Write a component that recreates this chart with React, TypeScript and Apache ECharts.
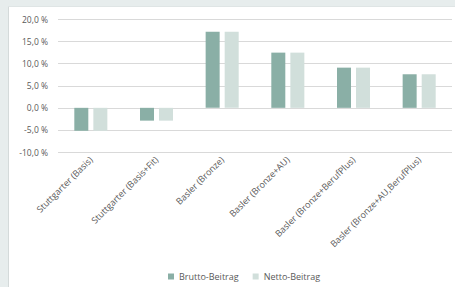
import React, { useEffect, useRef } from "react";
import * as echarts from "echarts";

const categories = [
  "Stuttgarter (Basis)",
  "Stuttgarter (Basis+Fit)",
  "Basler (Bronze)",
  "Basler (Bronze+AU)",
  "Basler (Bronze+BerufPlus)",
  "Basler (Bronze+AU,BerufPlus)",
];
const brutto = [-5.2, -2.9, 17.2, 12.5, 9.1, 7.6];
const netto = [-5.2, -2.9, 17.2, 12.5, 9.1, 7.6];
const seriesNames = ["Brutto-Beitrag", "Netto-Beitrag"];

const FONT = "'Open Sans', 'Noto Sans', sans-serif";

export default function App() {
  const ref = useRef<HTMLDivElement>(null);
  useEffect(() => {
    if (!ref.current) return;
    const chart = echarts.init(ref.current, undefined, { renderer: "svg" });
    chart.setOption({
      animation: false,
      backgroundColor: "#ffffff",
      textStyle: { fontFamily: FONT },
      graphic: [
        { type: "rect", shape: { x: 0, y: 0, width: 455, height: 6 }, style: { fill: "#e7eded" }, z: -10 },
        { type: "rect", shape: { x: 0, y: 0, width: 8, height: 287 }, style: { fill: "#e7eded" }, z: -10 },
        { type: "line", shape: { x1: 8.5, y1: 6, x2: 8.5, y2: 287 }, style: { stroke: "#d4dada", lineWidth: 1 }, z: -9 },
        { type: "line", shape: { x1: 8, y1: 6.5, x2: 455, y2: 6.5 }, style: { stroke: "#dfe5e5", lineWidth: 1 }, z: -9 },
      ],
      legend: {
        data: seriesNames,
        left: 163,
        top: 267,
        itemWidth: 6,
        itemHeight: 6,
        itemGap: 14,
        icon: "rect",
        textStyle: { fontSize: 9, color: "#595959", fontFamily: FONT },
      },
      grid: { left: 58, right: 3, top: 19.5, bottom: 135, containLabel: false },
      xAxis: {
        type: "category",
        data: categories,
        axisLine: { show: false, onZero: false },
        axisTick: { show: false },
        axisLabel: {
          rotate: 45,
          fontSize: 9,
          color: "#595959",
          fontFamily: FONT,
          margin: 6,
          interval: 0,
        },
      },
      yAxis: {
        type: "value",
        min: -10,
        max: 20,
        interval: 5,
        axisLine: { show: false },
        axisTick: { show: false },
        splitLine: { lineStyle: { color: "#d9d9d9", width: 1 } },
        axisLabel: {
          fontSize: 8.5,
          color: "#595959",
          fontFamily: FONT,
          margin: 10,
          formatter: (v: number) => v.toFixed(1).replace(".", ",") + " %",
        },
      },
      series: [
        {
          name: seriesNames[0],
          type: "bar",
          data: brutto,
          barWidth: 14,
          barGap: "36%",
          itemStyle: { color: "#8aafa6" },
        },
        {
          name: seriesNames[1],
          type: "bar",
          data: netto,
          barWidth: 14,
          itemStyle: { color: "#d1dfdb" },
        },
      ],
    });
    return () => chart.dispose();
  }, []);
  return (
    <div style={{ position: "fixed", left: 0, top: 0, width: 455, height: 287 }}>
      <div ref={ref} style={{ width: 455, height: 287 }} />
    </div>
  );
}
